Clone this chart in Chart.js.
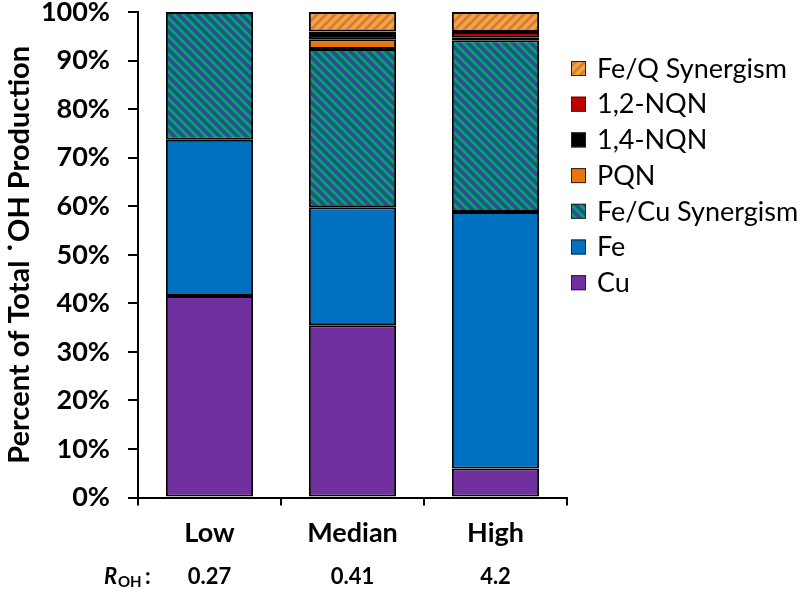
<!DOCTYPE html>
<html>
<head>
<meta charset="utf-8">
<script src="https://cdn.jsdelivr.net/npm/chart.js@4"></script>
<style>
html, body { margin: 0; padding: 0; background: #fff; }
#wrap { width: 800px; height: 596px; }
</style>
</head>
<body>
<div id="wrap"><canvas id="chart1"></canvas></div>
<script>
// categories and R_OH values under each bar
const categories = ['Low', 'Median', 'High'];
const rohValues = ['0.27', '0.41', '4.2'];

// percent of total OH production, stacked bottom to top
const cu = [41.5, 35.5, 6.0];
const fe = [32.2, 24.3, 52.8];
const feCuSyn = [26.3, 32.6, 35.4];
const pqn = [null, 2.0, null];
const nqn14 = [null, 1.3, 0.6];
const nqn12 = [null, 0.3, 1.1];
const feQSyn = [null, 4.0, 4.1];

// diagonal stripe fill, dir '/' or '\'
function stripes(c1, c2, dir) {
    const s = 9;
    const cv = document.createElement('canvas');
    cv.width = s;
    cv.height = s;
    const g = cv.getContext('2d');
    for (let x = 0; x < s; x++) {
        for (let y = 0; y < s; y++) {
            const d = dir === '/' ? (x + y) % s : ((x - y) % s + s) % s;
            g.fillStyle = d < s / 2 ? c1 : c2;
            g.fillRect(x, y, 1, 1);
        }
    }
    return g.createPattern(cv, 'repeat');
}

const sideLegend = {
    id: 'sideLegend',
    afterDraw(chart) {
        const ctx = chart.ctx;
        const items = chart.data.datasets.slice().reverse();
        ctx.save();
        ctx.font = '27px Lato';
        ctx.textBaseline = 'middle';
        items.forEach((d, i) => {
            const y = 68 + i * 35.7;
            ctx.fillStyle = d.backgroundColor;
            ctx.fillRect(571, y - 7, 15, 15);
            ctx.strokeStyle = '#222';
            ctx.lineWidth = 1;
            ctx.strokeRect(571.5, y - 6.5, 14, 14);
            ctx.fillStyle = '#000';
            ctx.fillText(d.label, 597, y + 1);
        });
        ctx.restore();
    }
};

const rohRow = {
    id: 'rohRow',
    afterDraw(chart) {
        const ctx = chart.ctx;
        const xs = chart.scales.x;
        const y = 577;
        ctx.save();
        ctx.fillStyle = '#000';
        ctx.textBaseline = 'middle';
        ctx.textAlign = 'left';
        ctx.font = 'italic bold 22px Lato';
        ctx.fillText('R', 104, y);
        ctx.font = 'bold 15px Lato';
        ctx.fillText('OH', 118, y + 5);
        ctx.font = 'bold 22px Lato';
        ctx.fillText(':', 145, y);
        ctx.textAlign = 'center';
        rohValues.forEach((v, i) => {
            ctx.fillText(v, xs.getPixelForValue(i), y);
        });
        ctx.restore();
    }
};

const ctx1 = document.getElementById('chart1').getContext('2d');
const chart1 = new Chart(ctx1, {
    type: 'bar',
    data: {
        labels: categories,
        datasets: [
            { label: 'Cu', data: cu, backgroundColor: '#7030a0' },
            { label: 'Fe', data: fe, backgroundColor: '#0070c0' },
            { label: 'Fe/Cu Synergism', data: feCuSyn, backgroundColor: stripes('#2b4f8c', '#00a070', '\\') },
            { label: 'PQN', data: pqn, backgroundColor: '#e8760f' },
            { label: '1,4-NQN', data: nqn14, backgroundColor: '#000000' },
            { label: '1,2-NQN', data: nqn12, backgroundColor: '#c00000' },
            { label: 'Fe/Q Synergism', data: feQSyn, backgroundColor: stripes('#f6a62c', '#d27a52', '/') }
        ]
    },
    options: {
        responsive: true,
        maintainAspectRatio: false,
        animation: false,
        layout: {
            padding: { top: 12, right: 233, bottom: 36, left: 2 }
        },
        datasets: {
            bar: {
                barPercentage: 0.61,
                categoryPercentage: 1,
                borderColor: '#000',
                borderWidth: 2,
                borderSkipped: false
            }
        },
        plugins: {
            legend: { display: false },
            tooltip: { enabled: false }
        },
        scales: {
            x: {
                stacked: true,
                grid: {
                    offset: true,
                    drawOnChartArea: false,
                    drawTicks: true,
                    tickLength: 8,
                    color: '#000',
                    lineWidth: 2
                },
                border: { color: '#000', width: 2 },
                ticks: {
                    color: '#000',
                    padding: 11,
                    font: { family: 'Lato', size: 27, weight: 'bold' }
                }
            },
            y: {
                stacked: true,
                min: 0,
                max: 100,
                afterFit: (s) => {
                    s.width = 136;
                    s.paddingTop = 0;
                    s.paddingBottom = 0;
                },
                grid: {
                    drawOnChartArea: false,
                    drawTicks: true,
                    tickLength: 10,
                    color: '#000',
                    lineWidth: 2
                },
                border: { color: '#000', width: 2 },
                ticks: {
                    stepSize: 10,
                    color: '#000',
                    padding: 18,
                    font: { family: 'Lato', size: 27, weight: 'bold', lineHeight: 1 },
                    callback: (v) => v + '%'
                },
                title: {
                    display: true,
                    text: 'Percent of Total \u02D9OH Production',
                    color: '#000',
                    padding: 0,
                    font: { family: 'Lato', size: 29, weight: 'bold' }
                }
            }
        }
    },
    plugins: [sideLegend, rohRow]
});
</script>
</body>
</html>
